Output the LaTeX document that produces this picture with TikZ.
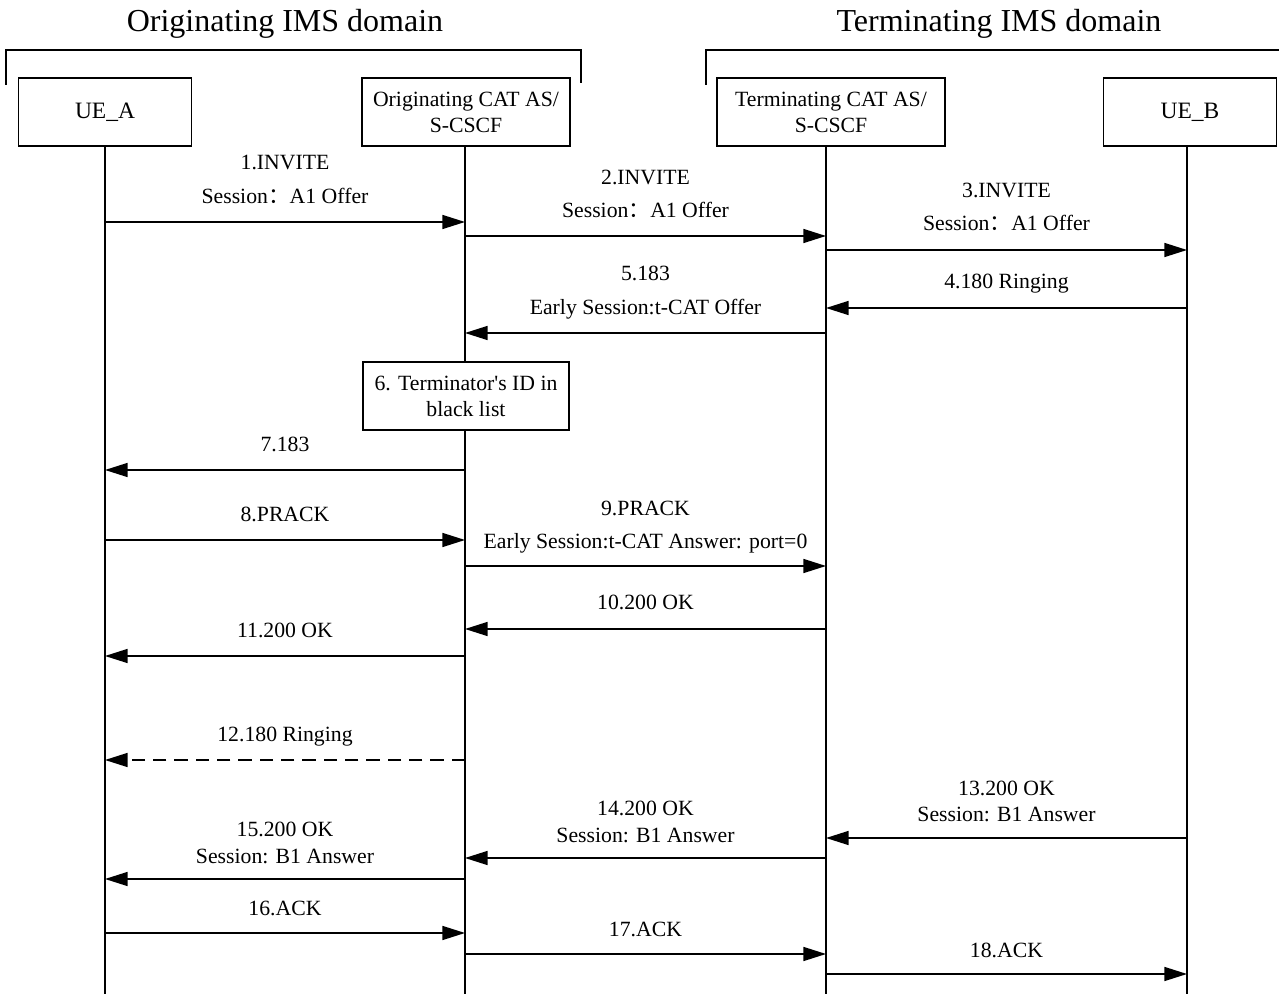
\documentclass[tikz,border=0pt]{standalone}
\usepackage{fontspec}
\setmainfont{Liberation Serif}
\newfontfamily\cjk{Noto Sans CJK SC}
\usetikzlibrary{arrows.meta,calc}
\begin{document}
\begin{tikzpicture}[x=0.75pt,y=-0.75pt,
  every node/.style={font=\fontsize{16.3}{19.5}\selectfont},
  entity/.style={draw,line width=0.8pt,minimum height=51pt,align=center,inner sep=2pt},
  title/.style={font=\fontsize{24}{28}\selectfont,anchor=base},
  lbl/.style={anchor=base,inner sep=0pt},
  life/.style={line width=0.8pt},
  bracket/.style={line width=1.1pt},
  msg/.style={line width=1.2pt,-{Triangle[length=17pt,width=10.5pt]}},
  dmsg/.style={msg,dash pattern=on 10pt off 6pt},
  note/.style={draw,fill=white,line width=0.8pt,align=center,minimum width=154.5pt,minimum height=51pt,inner sep=2pt}]
\useasboundingbox (0,0) rectangle (1279,994);

% domain titles and brackets
\node[title] (tOrig) at (285,32) {Originating IMS domain};
\node[title] (tTerm) at (999,32) {Terminating IMS domain};
\draw[bracket] (6,85) -- (6,50) -- (581,50) -- (581,83);
\draw[bracket] (706,85) -- (706,50) -- (1279,50);

% participants
\node[entity,minimum width=129.75pt,font=\fontsize{17.6}{21}\selectfont] (ua) at (105,112) {UE\_A};
\node[entity,minimum width=156pt] (oa) at (466,112) {Originating CAT AS/\\S-CSCF};
\node[entity,minimum width=171pt] (ta) at (831,112) {Terminating CAT AS/\\S-CSCF};
\node[entity,minimum width=129.75pt,font=\fontsize{17.6}{21}\selectfont] (ub) at (1190,112) {UE\_B};

% lifeline anchors
\coordinate (la) at (105,146);
\coordinate (lo) at (465,146);
\coordinate (lt) at (826,146);
\coordinate (lb) at (1187,146);
\coordinate (ea) at (105,994);
\coordinate (eo) at (465,994);
\coordinate (et) at (826,994);
\coordinate (eb) at (1187,994);
\draw[life] (la) -- (ea);
\draw[life] (lo) -- (eo);
\draw[life] (lt) -- (et);
\draw[life] (lb) -- (eb);

% label columns
\coordinate (mAO) at ($(la)!0.5!(lo)$);
\coordinate (mOT) at ($(lo)!0.5!(lt)$);
\coordinate (mTB) at ($(lt)!0.5!(lb)$);

% 1-3 INVITE
\draw[msg] (la |- 0,222) -- (lo |- 0,222);
\node[lbl] (l1a) at (mAO |- 0,170) {1.INVITE};
\node[lbl] (l1b) at (mAO |- 0,204) {Session{\cjk ：}A1 Offer};
\draw[msg] (lo |- 0,236) -- (lt |- 0,236);
\node[lbl] (l2a) at (mOT |- 0,185) {2.INVITE};
\node[lbl] (l2b) at (mOT |- 0,218) {Session{\cjk ：}A1 Offer};
\draw[msg] (lt |- 0,250) -- (lb |- 0,250);
\node[lbl] (l3a) at (mTB |- 0,198) {3.INVITE};
\node[lbl] (l3b) at (mTB |- 0,231) {Session{\cjk ：}A1 Offer};

% 4-5
\draw[msg] (lb |- 0,308) -- (lt |- 0,308);
\node[lbl] (l4) at (mTB |- 0,289) {4.180 Ringing};
\draw[msg] (lt |- 0,333) -- (lo |- 0,333);
\node[lbl] (l5a) at (mOT |- 0,281) {5.183};
\node[lbl] (l5b) at (mOT |- 0,315) {Early Session:t-CAT Offer};

% 6 local action
\node[note] (n6) at (466,396) {6. Terminator\textquotesingle s ID in\\black list};

% 7-11
\draw[msg] (lo |- 0,470) -- (la |- 0,470);
\node[lbl] (l7) at (mAO |- 0,452) {7.183};
\draw[msg] (la |- 0,540) -- (lo |- 0,540);
\node[lbl] (l8) at (mAO |- 0,522) {8.PRACK};
\draw[msg] (lo |- 0,566) -- (lt |- 0,566);
\node[lbl] (l9a) at (mOT |- 0,516) {9.PRACK};
\node[lbl] (l9b) at (mOT |- 0,549) {Early Session:t-CAT Answer: port=0};
\draw[msg] (lt |- 0,629) -- (lo |- 0,629);
\node[lbl] (l10) at (mOT |- 0,610) {10.200 OK};
\draw[msg] (lo |- 0,656) -- (la |- 0,656);
\node[lbl] (l11) at (mAO |- 0,638) {11.200 OK};

% 12 ringing (dashed)
\draw[dmsg] (lo |- 0,760) -- (la |- 0,760);
\node[lbl] (l12) at (mAO |- 0,741) {12.180 Ringing};

% 13-15 200 OK with answer
\draw[msg] (lb |- 0,838) -- (lt |- 0,838);
\node[lbl] (l13a) at (mTB |- 0,795) {13.200 OK};
\node[lbl] (l13b) at (mTB |- 0,821) {Session: B1 Answer};
\draw[msg] (lt |- 0,858) -- (lo |- 0,858);
\node[lbl] (l14a) at (mOT |- 0,815) {14.200 OK};
\node[lbl] (l14b) at (mOT |- 0,842) {Session: B1 Answer};
\draw[msg] (lo |- 0,879) -- (la |- 0,879);
\node[lbl] (l15a) at (mAO |- 0,836) {15.200 OK};
\node[lbl] (l15b) at (mAO |- 0,863) {Session: B1 Answer};

% 16-18 ACK
\draw[msg] (la |- 0,933) -- (lo |- 0,933);
\node[lbl] (l16) at (mAO |- 0,915) {16.ACK};
\draw[msg] (lo |- 0,954) -- (lt |- 0,954);
\node[lbl] (l17) at (mOT |- 0,936) {17.ACK};
\draw[msg] (lt |- 0,974) -- (lb |- 0,974);
\node[lbl] (l18) at (mTB |- 0,957) {18.ACK};
\end{tikzpicture}
\end{document}
